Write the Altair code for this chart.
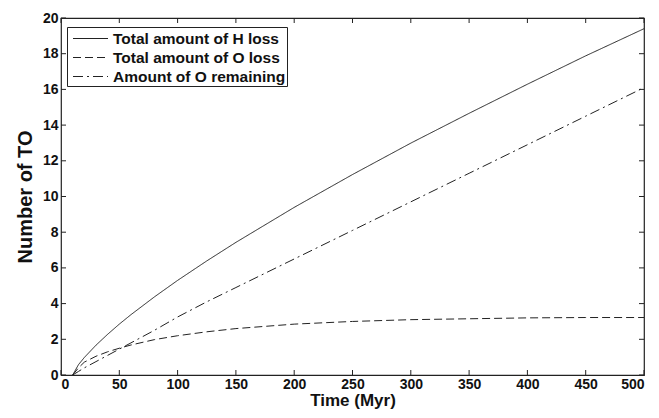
import altair as alt
import pandas as pd

series_names = ["Total amount of H loss", "Total amount of O loss", "Amount of O remaining"]

t_vals = [10, 15, 20, 30, 40, 50, 60, 80, 100, 125, 150, 200, 250, 300, 350, 400, 450, 500]
h_loss = [0, 0.58, 0.98, 1.67, 2.28, 2.85, 3.38, 4.37, 5.30, 6.39, 7.43, 9.39, 11.23, 12.99, 14.66, 16.29, 17.88, 19.40]
o_loss = [0, 0.40, 0.72, 1.05, 1.30, 1.50, 1.68, 1.98, 2.20, 2.42, 2.60, 2.85, 3.00, 3.10, 3.15, 3.20, 3.22, 3.22]
o_rem = [0, 0.20, 0.40, 0.75, 1.10, 1.45, 1.80, 2.50, 3.25, 4.10, 4.90, 6.50, 8.10, 9.70, 11.30, 12.90, 14.50, 16.10]

x_ticks = [0, 50, 100, 150, 200, 250, 300, 350, 400, 450, 500]
y_ticks = [0, 2, 4, 6, 8, 10, 12, 14, 16, 18, 20]

rows = []
for name, vals in zip(series_names, [h_loss, o_loss, o_rem]):
    for t, v in zip(t_vals, vals):
        rows.append({"series": name, "t": t, "v": v})
df = pd.DataFrame(rows)
xt = pd.DataFrame({"xt": x_ticks})
yt = pd.DataFrame({"yt": y_ticks})

W, H = 583, 357
FONT = "Liberation Sans"

xscale = alt.Scale(domain=[0, 500], nice=False)
yscale = alt.Scale(domain=[0, 20], nice=False)

xaxis = alt.Axis(
    title="Time (Myr)", values=x_ticks, ticks=False, domain=False, grid=False,
    labelFont=FONT, labelFontSize=14, labelFontWeight="bold", labelColor="#111",
    labelPadding=2, titleFont=FONT, titleFontSize=17, titleFontWeight="bold",
    titleColor="#111", titlePadding=1)
yaxis = alt.Axis(
    title="Number of TO", values=y_ticks, ticks=False, domain=False, grid=False,
    labelFont=FONT, labelFontSize=14, labelFontWeight="bold", labelColor="#111",
    labelPadding=3, titleFont=FONT, titleFontSize=20, titleFontWeight="bold",
    titleColor="#111", titlePadding=7)

lines = alt.Chart(df).mark_line(color="#222222", strokeWidth=1).encode(
    x=alt.X("t:Q", scale=xscale, axis=xaxis),
    y=alt.Y("v:Q", scale=yscale, axis=yaxis),
    strokeDash=alt.StrokeDash("series:N", scale=alt.Scale(
        domain=series_names, range=[[1, 0], [8, 4], [10, 4, 2, 4]]),
        legend=alt.Legend(title=None, orient="none", legendX=6, legendY=9,
                          symbolType="M-1.75,0H1.75", symbolStrokeColor="#222",
                          symbolStrokeWidth=1, symbolSize=400, symbolFillColor="transparent",
                          labelFont=FONT, labelFontSize=15.5, labelFontWeight="bold",
                          labelColor="#111", strokeColor="#222", fillColor="white",
                          labelLimit=400, padding=1, rowPadding=0,
                          labelOffset=12, symbolOffset=12)),
    detail="series:N",
)

tick_len = 5
bottom = alt.Chart(xt).mark_rule(color="#222", strokeWidth=1).encode(
    x=alt.X("xt:Q", scale=xscale, axis=xaxis), y=alt.value(H), y2=alt.value(H - tick_len))
top = alt.Chart(xt).mark_rule(color="#222", strokeWidth=1).encode(
    x=alt.X("xt:Q", scale=xscale, axis=xaxis), y=alt.value(0), y2=alt.value(tick_len))
left = alt.Chart(yt).mark_rule(color="#222", strokeWidth=1).encode(
    y=alt.Y("yt:Q", scale=yscale, axis=yaxis), x=alt.value(0), x2=alt.value(tick_len))
right = alt.Chart(yt).mark_rule(color="#222", strokeWidth=1).encode(
    y=alt.Y("yt:Q", scale=yscale, axis=yaxis), x=alt.value(W), x2=alt.value(W - tick_len))

chart = alt.layer(lines, bottom, top, left, right).properties(
    width=W, height=H,
    autosize=alt.AutoSizeParams(type="none"),
    padding={"left": 53, "top": 10, "right": 7, "bottom": 35},
    background="white",
).configure_view(stroke="#222", strokeWidth=1.2)

chart.save("out.html", embed_options={"renderer": "svg", "actions": False})
